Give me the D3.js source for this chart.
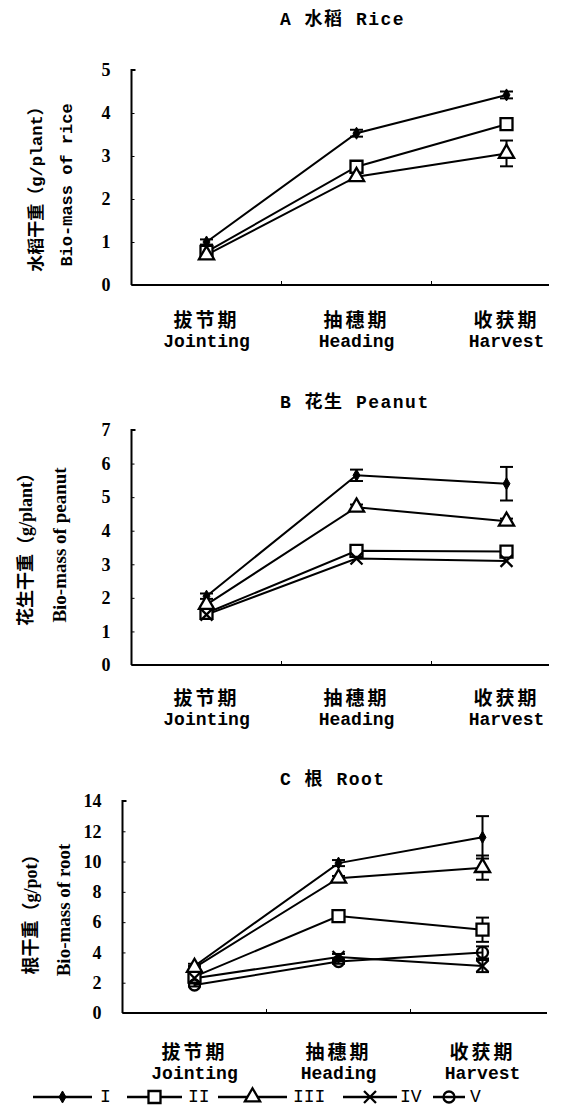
<!DOCTYPE html>
<html><head><meta charset="utf-8">
<script src="https://cdn.jsdelivr.net/npm/d3@7"></script>
<style>body{margin:0;background:#fff}svg{display:block}</style>
</head><body><svg id="chart" width="584" height="1115"></svg>
<script>
// Growth stages (x categories)
const stagesZh = ["拔节期", "抽穗期", "收获期"];
const stagesEn = ["Jointing", "Heading", "Harvest"];
const treatments = ["I", "II", "III", "IV", "V"];

// A: rice biomass (g/plant)
const riceSeries = ["I", "II", "III"];
const riceValues = [[1.0, 3.53, 4.42], [0.77, 2.75, 3.74], [0.70, 2.52, 3.06]];
const riceErrors = [[0.06, 0.08, 0.08], [0, 0, 0], [0, 0, 0.3]];
const riceTicks = [0, 1, 2, 3, 4, 5];

// B: peanut biomass (g/plant)
const peanutSeries = ["I", "II", "III", "IV"];
const peanutValues = [[2.05, 5.65, 5.4], [1.55, 3.4, 3.38], [1.8, 4.7, 4.28], [1.5, 3.17, 3.1]];
const peanutErrors = [[0.08, 0.17, 0.5], [0, 0, 0], [0, 0.08, 0.08], [0, 0, 0]];
const peanutTicks = [0, 1, 2, 3, 4, 5, 6, 7];

// C: root biomass (g/pot)
const rootSeries = ["I", "II", "III", "IV", "V"];
const rootValues = [[3.1, 9.9, 11.6], [2.4, 6.4, 5.5], [3.0, 8.9, 9.6], [2.3, 3.7, 3.1], [1.85, 3.4, 4.0]];
const rootErrors = [[0.15, 0.2, 1.4], [0.1, 0.15, 0.8], [0.1, 0.15, 0.8], [0.1, 0.2, 0.4], [0.1, 0.15, 0.4]];
const rootTicks = [0, 2, 4, 6, 8, 10, 12, 14];

const svg = d3.select("#chart");
const CJK = "'Noto Sans CJK SC'";
const MONO = "'Liberation Mono', " + CJK;
const SERIF = "'Liberation Serif', " + CJK;

const symbolX = d3.symbolTimes || d3.symbolX;
const markerDef = {
  I:   {type: d3.symbolDiamond, size: 42, fill: "#000"},
  II:  {type: d3.symbolSquare, size: 144, fill: "#fff"},
  III: {type: d3.symbolTriangle, size: 100, fill: "#fff"},
  IV:  {type: symbolX, size: 95, fill: "none"},
  V:   {type: d3.symbolCircle, size: 95, fill: "none"}
};

function drawMarker(g, name, x, y) {
  const m = markerDef[name];
  g.append("path")
    .attr("d", d3.symbol().type(m.type).size(m.size)())
    .attr("transform", `translate(${x},${y})`)
    .attr("fill", m.fill)
    .attr("stroke", "#000")
    .attr("stroke-width", name === "I" ? 1 : 2.3);
}

const panels = [
  {title: "A 水稻 Rice", titleY: 20, series: riceSeries, values: riceValues, errors: riceErrors, ticks: riceTicks,
   left: 131.5, bottom: 285, top: 70, band: 150, axisEnd: 549, labelY: 318,
   yZh: "水稻干重（g/plant）", yEn: "Bio-mass of rice", zhX: 37, enX: 67, yMid: 185, enFont: MONO, zhSize: 17, enSize: 17},
  {title: "B 花生 Peanut", titleY: 403, series: peanutSeries, values: peanutValues, errors: peanutErrors, ticks: peanutTicks,
   left: 131.5, bottom: 665, top: 430, band: 150, axisEnd: 549, labelY: 696,
   yZh: "花生干重（g/plant）", yEn: "Bio-mass of peanut", zhX: 26, enX: 59, yMid: 545, enFont: SERIF, zhSize: 18, enSize: 19},
  {title: "C 根 Root", titleY: 780, series: rootSeries, values: rootValues, errors: rootErrors, ticks: rootTicks,
   left: 122.5, bottom: 1013, top: 801, band: 144, axisEnd: 547, labelY: 1050,
   yZh: "根干重（g/pot）", yEn: "Bio-mass of root", zhX: 31, enX: 63, yMid: 910, enFont: SERIF, zhSize: 18, enSize: 19}
];

panels.forEach(p => {
  const g = svg.append("g");
  const yMax = p.ticks[p.ticks.length - 1];
  const y = d3.scaleLinear().domain([0, yMax]).range([p.bottom, p.top]);
  const x = d3.scaleBand().domain(stagesEn).range([p.left, p.left + 3 * p.band]);

  // title
  g.append("text").attr("x", 280).attr("y", p.titleY)
    .attr("text-anchor", "start").attr("dominant-baseline", "central")
    .style("font-family", MONO).style("font-weight", "bold").style("font-size", "18px")
    .style("letter-spacing", "1.5px")
    .text(p.title);

  // y axis
  const yAxis = d3.axisLeft(y).tickValues(p.ticks).tickSize(-3).tickPadding(21).tickFormat(d3.format("d"));
  const ya = g.append("g").attr("transform", `translate(${p.left},0)`).call(yAxis);
  ya.select(".domain").attr("stroke-width", 2).attr("d", `M4,${p.top}H0V${p.bottom}`);
  ya.selectAll(".tick line").attr("stroke-width", 1);
  ya.selectAll(".tick text").style("font-family", SERIF).style("font-weight", "bold").style("font-size", "18px");

  // x axis with ticks at band boundaries
  g.append("line").attr("x1", p.left).attr("x2", p.axisEnd).attr("y1", p.bottom).attr("y2", p.bottom)
    .attr("stroke", "#000").attr("stroke-width", 2);
  g.selectAll(".xt").data(stagesEn.slice(1)).join("line")
    .attr("x1", d => x(d)).attr("x2", d => x(d))
    .attr("y1", p.bottom).attr("y2", p.bottom - 4)
    .attr("stroke", "#000").attr("stroke-width", 1);

  // category labels
  stagesEn.forEach((s, i) => {
    const cx = x(s) + x.bandwidth() / 2;
    g.append("text").attr("x", cx).attr("y", p.labelY).attr("text-anchor", "middle")
      .attr("dominant-baseline", "central")
      .style("font-family", CJK).style("font-weight", "bold").style("font-size", "19px")
      .style("letter-spacing", "3px").text(stagesZh[i]);
    g.append("text").attr("x", cx).attr("y", p.labelY + 24).attr("text-anchor", "middle")
      .attr("dominant-baseline", "central")
      .style("font-family", MONO).style("font-size", "18px").style("font-weight", "bold")
      .text(s);
  });

  // y axis titles
  g.append("text").attr("transform", `translate(${p.zhX},${p.yMid}) rotate(-90)`)
    .attr("text-anchor", "middle").attr("dominant-baseline", "central")
    .style("font-family", p.enFont).style("font-weight", "bold").style("font-size", p.zhSize + "px")
    .text(p.yZh);
  g.append("text").attr("transform", `translate(${p.enX},${p.yMid}) rotate(-90)`)
    .attr("text-anchor", "middle").attr("dominant-baseline", "central")
    .style("font-family", p.enFont).style("font-weight", "bold").style("font-size", p.enSize + "px")
    .text(p.yEn);

  const cxOf = i => x(stagesEn[i]) + x.bandwidth() / 2;
  const line = d3.line().x((d, i) => cxOf(i)).y(d => y(d));

  // series lines
  p.series.forEach((name, k) => {
    g.append("path").attr("d", line(p.values[k]))
      .attr("fill", "none").attr("stroke", "#000").attr("stroke-width", 2);
  });
  // error bars
  p.series.forEach((name, k) => {
    p.values[k].forEach((v, i) => {
      const e = p.errors[k][i];
      if (!e) return;
      const cx = cxOf(i);
      g.append("line").attr("x1", cx).attr("x2", cx).attr("y1", y(v - e)).attr("y2", y(v + e))
        .attr("stroke", "#000").attr("stroke-width", 2);
      [v - e, v + e].forEach(t => {
        g.append("line").attr("x1", cx - 6.5).attr("x2", cx + 6.5).attr("y1", y(t)).attr("y2", y(t))
          .attr("stroke", "#000").attr("stroke-width", 2);
      });
    });
  });
  // markers
  p.series.forEach((name, k) => {
    p.values[k].forEach((v, i) => drawMarker(g, name, cxOf(i), y(v)));
  });
});

// legend
const legendY = 1097;
const legendItems = [
  {x1: 33, x2: 92, lx: 100},
  {x1: 127, x2: 182, lx: 188},
  {x1: 218, x2: 287, lx: 293},
  {x1: 343, x2: 397, lx: 400},
  {x1: 433, x2: 465, lx: 470}
];
const lg = svg.append("g");
treatments.forEach((name, i) => {
  const it = legendItems[i];
  lg.append("line").attr("x1", it.x1).attr("x2", it.x2).attr("y1", legendY).attr("y2", legendY)
    .attr("stroke", "#000").attr("stroke-width", 2.5);
  drawMarker(lg, name, (it.x1 + it.x2) / 2, legendY);
  lg.append("text").attr("x", it.lx).attr("y", legendY).attr("dominant-baseline", "central")
    .style("font-family", MONO).style("font-size", "18px").text(name);
});
</script></body></html>
